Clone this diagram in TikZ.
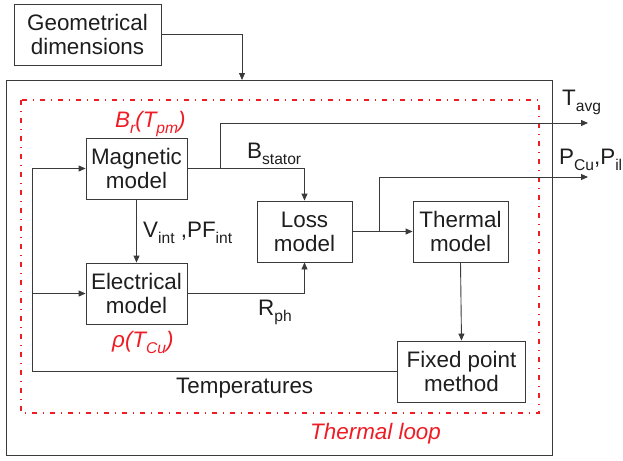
\documentclass[tikz,border=0pt]{standalone}
\usepackage{fontspec}
\setmainfont{Liberation Sans}
\usetikzlibrary{arrows.meta}
\definecolor{ln}{HTML}{3A3A3A}
\definecolor{txt}{HTML}{1E1E1E}
\definecolor{loopred}{HTML}{EE1C24}
\newcommand{\lsub}[1]{\raisebox{-6pt}{\fontsize{15.6}{16}\selectfont #1}}
\begin{document}
\begin{tikzpicture}[x=1pt,y=-1pt,
  font=\fontsize{22.4}{24}\selectfont,
  every node/.style={text=txt},
  blk/.style={draw=ln, line width=0.9pt, align=center, inner sep=0pt, minimum height=61pt},
  conn/.style={draw=ln, line width=0.9pt},
  arr/.style={conn, -{Triangle[length=7pt,width=6pt]}},
  redlbl/.style={text=loopred, font=\fontsize{22.4}{24}\selectfont\itshape},
  lbl/.style={anchor=base west, inner sep=0pt}
]
\useasboundingbox (0,0) rectangle (623,460);

% frames
\draw[ln, line width=1pt] (6,80) rectangle (552,455);
\draw[loopred, line width=1.1pt, dash pattern=on 5pt off 6pt on 1pt off 6pt] (21,100) rectangle (539,413);

% blocks
\node[blk, minimum width=147pt] (geo) at (87.5,34.5) {Geometrical\\dimensions};
\node[blk, minimum width=101pt] (mag) at (136.5,168.5) {Magnetic\\model};
\node[blk, minimum width=101pt] (elec) at (136.5,293.5) {Electrical\\model};
\node[blk, minimum width=95pt] (loss) at (304.5,231.5) {Loss\\model};
\node[blk, minimum width=95pt] (therm) at (460.5,231.5) {Thermal\\model};
\node[blk, minimum width=128pt] (fixed) at (461.5,371.5) {Fixed point\\method};

% helper coordinates
\coordinate (gin) at (242,80);
\coordinate (b1) at (220,168.5);
\coordinate (tout) at (588,123);
\coordinate (b2) at (379,231.5);
\coordinate (pout) at (588,177);
\coordinate (fbc) at (32,371.5);
\coordinate (fbm) at (32,168.5);
\coordinate (fbe) at (32,293.5);

% connectors
\draw[arr] (geo.east) -| (gin);
\draw[arr] (mag.south) -- (elec.north);
\draw[arr] (mag.east) -| (loss.north);
\draw[arr] (b1) |- (tout);
\draw[arr] (elec.east) -| (loss.south);
\draw[arr] (loss.east) -- (therm.west);
\draw[arr] (b2) |- (pout);
\draw[arr] (therm.south) -- (fixed.north);
\draw[conn] (fixed.west) -- (fbc) -- (fbm);
\draw[arr] (fbm) -- (mag.west);
\draw[arr] (fbe) -- (elec.west);

% labels
\node[lbl] (lv) at (143,237) {V\lsub{int} ,PF\lsub{int}};
\node[lbl] (lb) at (247,158) {B\lsub{stator}};
\node[lbl] (lr) at (258,315) {R\lsub{ph}};
\node[lbl] (lt) at (562,105) {T\lsub{avg}};
\node[lbl] (lp) at (559,164) {P\lsub{Cu},P\lsub{il}};
\node[lbl] (ltemp) at (176,393) {Temperatures};
\node[lbl, redlbl] (lbr) at (115,127) {B\lsub{r}(T\lsub{pm})};
\node[lbl, redlbl] (lrho) at (112,347) {ρ(T\lsub{Cu})};
\node[lbl, redlbl] (lloop) at (310,439) {Thermal loop};
\end{tikzpicture}
\end{document}
